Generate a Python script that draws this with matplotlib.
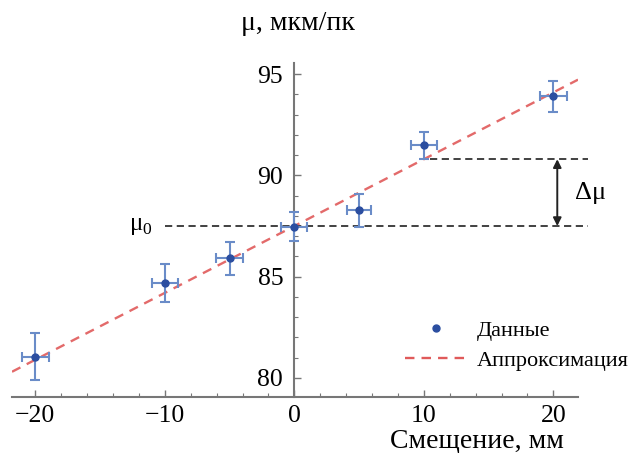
import matplotlib
matplotlib.use("Agg")
import matplotlib.pyplot as plt
from matplotlib.ticker import MultipleLocator
from matplotlib.lines import Line2D
import numpy as np

plt.rcParams['font.family'] = ['Liberation Serif', 'DejaVu Serif']
plt.rcParams['mathtext.fontset'] = 'custom'
plt.rcParams['mathtext.rm'] = 'Liberation Serif'

# Data
shift_mm = [-20, -10, -5, 0, 5, 10, 20]
mu = [81.05, 84.7, 85.9, 87.47, 88.27, 91.49, 93.9]
mu_err = [1.15, 0.95, 0.8, 0.7, 0.8, 0.67, 0.77]
shift_err = [1.05, 1.0, 1.05, 1.0, 0.95, 1.0, 1.05]
fit_intercept = 87.5
fit_slope = 0.33
xlim = (-21.8, 21.9)
ylim = (79.06, 95.55)
xticks = [-20, -10, 0, 10, 20]
yticks = [80, 85, 90, 95]

fig = plt.figure(figsize=(6.38, 4.53), dpi=100)
ax = fig.add_axes([12/638, 1-397/453, 566/638, 334/453])
ax.set_xlim(*xlim)
ax.set_ylim(*ylim)

axis_gray = '#777777'
ax.spines['top'].set_visible(False)
ax.spines['right'].set_visible(False)
ax.spines['left'].set_position(('data', 0))
for s in ('left', 'bottom'):
    ax.spines[s].set_color(axis_gray)
    ax.spines[s].set_linewidth(1.5)

ax.set_xticks(xticks)
ax.set_yticks(yticks)
ax.xaxis.set_minor_locator(MultipleLocator(2))
ax.yaxis.set_minor_locator(MultipleLocator(1))
ax.tick_params(axis='both', which='major', direction='in', length=5, width=1.0,
               color=axis_gray, labelsize=18.5)
ax.tick_params(axis='both', which='minor', direction='in', length=3, width=0.8,
               color=axis_gray)
ax.tick_params(axis='x', pad=6)
ax.tick_params(axis='y', pad=8)
ax.set_xticklabels([f'{t}'.replace('-', '\u2212') for t in xticks])

# fit line
xf = np.array(xlim)
ax.plot(xf, fit_intercept + fit_slope * xf, linestyle=(0, (4, 3)), color='#e05a5a',
        lw=1.7, alpha=0.9, zorder=2, label='Аппроксимация')

# horizontal reference lines
mu0 = fit_intercept
mu10 = fit_intercept + fit_slope * 10
ax.plot([-10, 22.7], [mu0, mu0], linestyle=(0, (4, 2.5)), color='#333333', lw=1.3,
        clip_on=False, zorder=1)
ax.plot([10.5, 22.7], [mu10, mu10], linestyle=(0, (4, 2.5)), color='#333333', lw=1.3,
        clip_on=False, zorder=1)
ax.annotate('', xy=(20.3, mu10), xytext=(20.3, mu0),
            arrowprops=dict(arrowstyle='<|-|>', color='#222222', lw=1.4,
                            mutation_scale=12, shrinkA=0, shrinkB=0))
ax.text(21.7, (mu0 + mu10) / 2, 'Δμ', fontsize=19, va='center', ha='left')
ax.text(-10.9, mu0, 'μ$_0$', fontsize=18, va='center', ha='right')

# data with error bars
ax.errorbar(shift_mm, mu, yerr=mu_err, xerr=shift_err, fmt='none', ecolor='#6a8cc8',
            elinewidth=1.5, capsize=3.5, capthick=1.5, zorder=3)
ax.plot(shift_mm, mu, 'o', color='#2b4ea0', ms=5, zorder=4, linestyle='none',
        label='Данные')

# axis titles
fig.text(298/638, 1-24/453, 'μ, мкм/пк', fontsize=20, ha='center', va='center')
fig.text(564/638, 1-442/453, 'Смещение, мм', fontsize=20, ha='right', va='center')

handles = [Line2D([], [], marker='o', color='#2b4ea0', ms=5, linestyle='none'),
           Line2D([], [], linestyle=(0, (4, 3)), color='#e05a5a', lw=1.7)]
ax.legend(handles, ['Данные', 'Аппроксимация'], loc='upper left',
          bbox_to_anchor=(405/638, 1-320/453), bbox_transform=fig.transFigure,
          frameon=False, fontsize=16, borderpad=0, borderaxespad=0,
          handlelength=2.8, handletextpad=0.45, labelspacing=0.45)

fig.savefig('out.png', dpi=100)
